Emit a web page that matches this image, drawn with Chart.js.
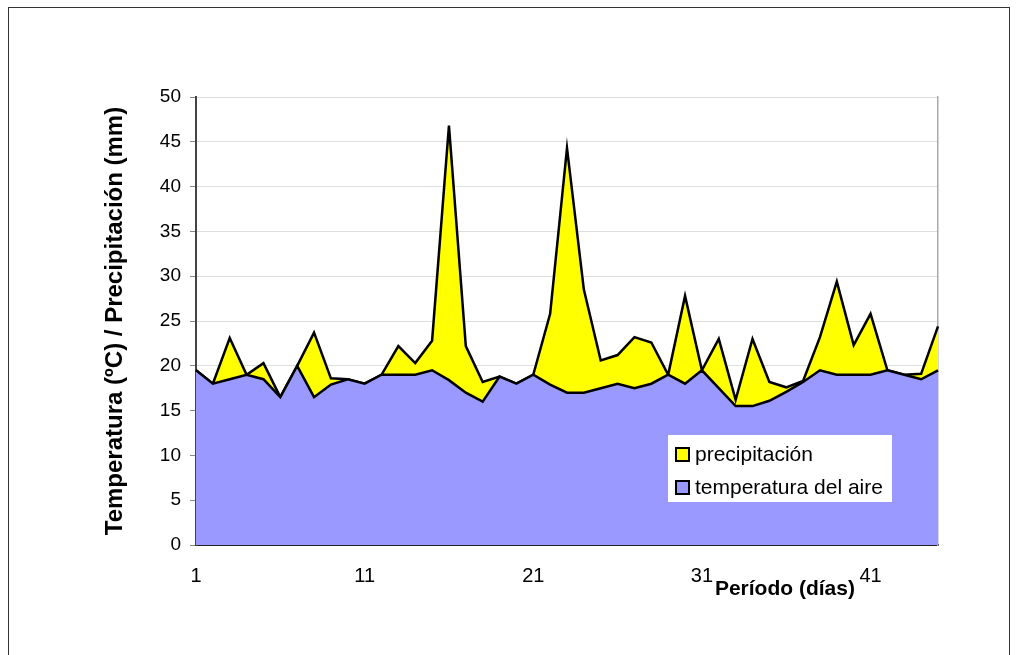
<!DOCTYPE html>
<html>
<head>
<meta charset="utf-8">
<script src="https://cdn.jsdelivr.net/npm/chart.js"></script>
<style>
  body { margin: 0; background: #fff; }
  #wrap { position: relative; width: 1020px; height: 655px; }
  #frame { position: absolute; left: 8px; top: 7px; width: 1002px; height: 660px; border: 1.5px solid #333; box-sizing: border-box; pointer-events: none; }
</style>
</head>
<body>
<div id="wrap">
  <canvas id="area-chart" width="1020" height="655"></canvas>
  <div id="frame"></div>
</div>
<script>
var dias = [];
for (var i = 1; i <= 45; i++) dias.push(String(i));

var temperatura = [19.5, 18.0, 18.5, 19.0, 18.5, 16.5, 20.0, 16.5, 17.9, 18.5,
                   18.0, 19.0, 19.0, 19.0, 19.5, 18.4, 17.0, 16.0, 18.8, 18.0,
                   19.0, 17.9, 17.0, 17.0, 17.5, 18.0, 17.5, 18.0, 19.0, 18.0,
                   19.5, 17.5, 15.5, 15.5, 16.1, 17.1, 18.2, 19.5, 19.0, 19.0,
                   19.0, 19.5, 19.0, 18.5, 19.5];
var precipitacion = [0, 0, 4.6, 0, 1.8, 0, 0, 7.2, 0.7, 0,
                     0, 0, 3.2, 1.3, 3.3, 28.4, 5.2, 2.2, 0, 0,
                     0, 7.9, 27.3, 11.5, 3.1, 3.2, 5.7, 4.6, 0, 9.8,
                     0, 5.5, 0.7, 7.5, 2.1, 0.5, 0.1, 3.7, 10.4, 3.3,
                     6.8, 0, 0, 0.6, 4.9];
var yTicks = [0, 5, 10, 15, 20, 25, 30, 35, 40, 45, 50];

var fontName = "'Liberation Sans', Arial, sans-serif";

var xTitle = {
  id: 'xTitle',
  afterDraw: function (chart) {
    var ctx = chart.ctx;
    var xs = chart.scales.x;
    ctx.save();
    ctx.font = 'bold 21px ' + fontName;
    ctx.fillStyle = '#000';
    ctx.textAlign = 'left';
    ctx.textBaseline = 'middle';
    ctx.fillText('Período (días)', xs.getPixelForValue(30) + 13, chart.chartArea.bottom + 44);
    ctx.restore();
  }
};

var boxLegend = {
  id: 'boxLegend',
  afterDraw: function (chart) {
    var ctx = chart.ctx;
    var a = chart.chartArea;
    var left = a.left + 472, top = a.top + 338;
    ctx.save();
    ctx.fillStyle = '#fff';
    ctx.fillRect(left, top, 224, 67);
    var items = [chart.data.datasets[1], chart.data.datasets[0]];
    ctx.font = '21px ' + fontName;
    ctx.textBaseline = 'middle';
    items.forEach(function (ds, k) {
      var cy = top + 19 + k * 33;
      ctx.fillStyle = ds.backgroundColor;
      ctx.fillRect(left + 8, cy - 6, 13, 13);
      ctx.lineWidth = 2;
      ctx.strokeStyle = '#000';
      ctx.strokeRect(left + 8, cy - 6, 13, 13);
      ctx.fillStyle = '#000';
      ctx.fillText(ds.label, left + 27, cy + 1);
    });
    ctx.restore();
  }
};

new Chart(document.getElementById('area-chart'), {
  type: 'line',
  data: {
    labels: dias,
    datasets: [{
      label: 'temperatura del aire',
      data: temperatura,
      backgroundColor: '#9999FF',
      borderColor: '#000',
      borderWidth: 2.5,
      fill: 'origin',
      pointRadius: 0,
      tension: 0
    }, {
      label: 'precipitación',
      data: precipitacion,
      backgroundColor: '#FFFF00',
      borderColor: '#000',
      borderWidth: 2.5,
      fill: '-1',
      pointRadius: 0,
      tension: 0
    }]
  },
  options: {
    responsive: false,
    animation: false,
    layout: { padding: { left: 101, top: 97, right: 82, bottom: 0 } },
    plugins: {
      legend: { display: false },
      tooltip: { enabled: false }
    },
    scales: {
      x: {
        offset: false,
        grid: { display: false, drawTicks: false },
        border: { color: '#222', width: 2 },
        afterFit: function (s) { s.height = 110; },
        ticks: {
          autoSkip: false,
          maxRotation: 0,
          padding: 19,
          color: '#000',
          font: { family: fontName, size: 20 },
          callback: function (v, i) { return i % 10 === 0 ? dias[i] : ''; }
        }
      },
      y: {
        stacked: true,
        min: 0,
        max: 50,
        afterFit: function (s) { s.width = 95; },
        afterBuildTicks: function (s) { s.ticks = yTicks.map(function (v) { return { value: v }; }); },
        grid: {
          color: '#dddddd',
          tickLength: 6,
          tickColor: '#888'
        },
        border: { color: '#444', width: 2 },
        title: {
          display: true,
          text: 'Temperatura (ºC) / Precipitación (mm)',
          color: '#000',
          padding: 0,
          font: { family: fontName, size: 24, weight: 'bold' }
        },
        ticks: {
          padding: 9,
          color: '#000',
          font: { family: fontName, size: 19 }
        }
      },
      yr: {
        position: 'right',
        min: 0,
        max: 50,
        grid: { display: false },
        border: { color: '#aaa', width: 1.5 },
        ticks: { display: false },
        afterFit: function (s) { s.width = 0; }
      }
    }
  },
  plugins: [xTitle, boxLegend]
});
</script>
</body>
</html>
